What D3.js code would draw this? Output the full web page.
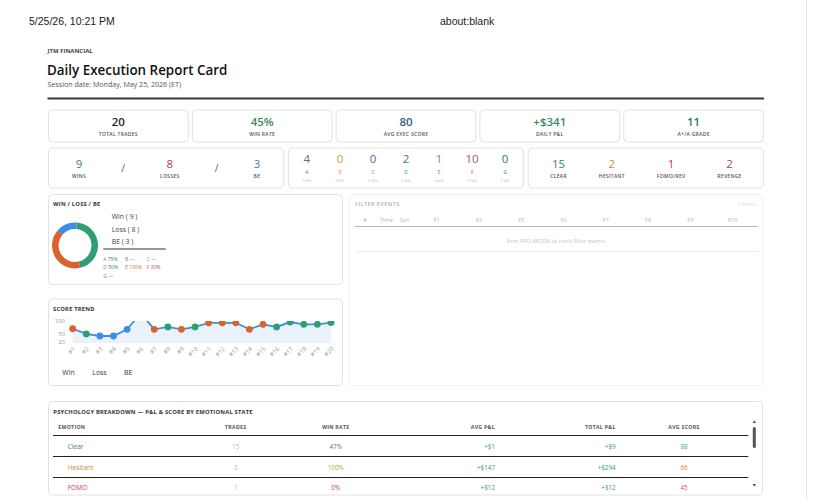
<!DOCTYPE html>
<html><head><meta charset="utf-8">
<script src="https://cdn.jsdelivr.net/npm/d3@7"></script>
<style>
html,body{margin:0;padding:0;background:#fff;}
svg{display:block;}
svg text{font-family:"Open Sans",sans-serif;}
</style></head><body>
<svg id="c" width="814" height="500"></svg>
<script>
// ---------- DATA ----------
const kpiLabels = ["TOTAL TRADES", "WIN RATE", "AVG EXEC SCORE", "DAILY P&L", "A+/A GRADE"];
const kpiValues = ["20", "45%", "80", "+$341", "11"];
const kpiColors = ["#1f1f1f", "#3a8a5c", "#2c5d8a", "#3a8a5c", "#2f7a5a"];

const outcomeLabels = ["WINS", "LOSSES", "BE"];
const outcomeCounts = [9, 8, 3];
const outcomeColors = ["#3a8a5c", "#b04a4a", "#4a78a8"];

const grades = ["A", "B", "C", "D", "E", "F", "G"];
const gradeCounts = [4, 0, 0, 2, 1, 10, 0];
const gradeBlk = [0, 3, 0, 0, 0, 3, 0];
const gradeColors = ["#4a6fa0", "#d4a030", "#6a5aa0", "#2a8878", "#c07840", "#a05080", "#2a7a5a"];
const gradeWinRates = ["75%", "—", "—", "50%", "100%", "30%", "—"];

const emotionLabels = ["CLEAR", "HESITANT", "FOMO/REV", "REVENGE"];
const emotionCounts = [15, 2, 1, 2];
const emotionColors = ["#2f8a6a", "#c0904a", "#b0404a", "#a84a4a"];

const donutLabels = ["Win", "Loss", "BE"];
const donutValues = [9, 8, 3];
const donutColors = ["#2f9e72", "#d9622f", "#3a8ee6"];

const tradeLabels = ["#1","#2","#3","#4","#5","#6","#7","#8","#9","#10","#11","#12","#13","#14","#15","#16","#17","#18","#19","#20"];
const tradeScores = [70, 50, 42, 42, 68, 130, 68, 77, 68, 77, 93, 93, 93, 68, 87, 77, 96, 87, 87, 94];
const tradeOutcomes = ["Loss","Win","BE","BE","BE","Win","Loss","Win","Loss","Win","Loss","Loss","Loss","Loss","Loss","Win","Win","Win","Win","Win"];
const scoreTicks = [20, 50, 100];

const filterCols = ["#", "Time", "Scn", "F1", "F3", "F5", "F6", "F7", "F8", "F9", "F10"];

const psychHeaders = ["EMOTION", "TRADES", "WIN RATE", "AVG P&L", "TOTAL P&L", "AVG SCORE"];
const psychEmotions = ["Clear", "Hesitant", "FOMO"];
const psychTrades = [15, 2, 1];
const psychWinRate = [47, 100, 0];
const psychAvgPnl = [1, 147, 12];
const psychTotalPnl = [9, 294, 12];
const psychAvgScore = [88, 66, 45];
const psychEmotionColors = ["#3a8a6a", "#b8952e", "#c03848"];
const psychWinColors = ["#3a8a5c", "#c0a030", "#c03848"];
const psychScoreColors = ["#3aa880", "#d08a30", "#d04a3a"];

// ---------- HELPERS ----------
const svg = d3.select("#c");
function T(p, x, y, s, size, o = {}) {
  const t = p.append("text").attr("x", x).attr("y", y).text(s)
    .attr("font-size", size).attr("font-weight", o.w || 400)
    .attr("fill", o.c || "#222").attr("text-anchor", o.a || "start");
  if (o.ls) t.attr("letter-spacing", o.ls);
  if (o.f) t.style("font-family", o.f);
  return t;
}
function card(p, x, y, w, h) {
  return p.append("rect").attr("x", x).attr("y", y).attr("width", w).attr("height", h)
    .attr("rx", 4).attr("fill", "#fff").attr("stroke", "#e2e2e2").attr("stroke-width", 1);
}
function spaceAround(groups, x0, x1) {
  const ws = groups.map(g => g.node().getBBox().width);
  const gap = ((x1 - x0) - d3.sum(ws)) / groups.length;
  let cur = x0;
  groups.forEach((g, i) => {
    g.attr("transform", `translate(${cur + gap / 2 + ws[i] / 2},0)`);
    cur += gap + ws[i];
  });
}
const fmtMoney = v => (v >= 0 ? "+$" : "-$") + Math.abs(v);

// ---------- PRINT HEADER ----------
T(svg, 29, 25, "5/25/26, 10:21 PM", 10.5, { c: "#222", f: '"Liberation Sans", Arial, sans-serif' });
T(svg, 440, 25, "about:blank", 10.5, { c: "#222", f: '"Liberation Sans", Arial, sans-serif' });
svg.append("line").attr("x1", 806.5).attr("x2", 806.5).attr("y1", 0).attr("y2", 500).attr("stroke", "#e6e6e6");

// ---------- REPORT HEADER ----------
T(svg, 47.5, 53, "JTM FINANCIAL", 6, { w: 700, c: "#444" });
T(svg, 47, 75, "Daily Execution Report Card", 13.4, { w: 600, c: "#111" });
T(svg, 47.5, 87.3, "Session date: Monday, May 25, 2026 (ET)", 7.1, { c: "#555" });
svg.append("rect").attr("x", 47.5).attr("y", 97.5).attr("width", 716.5).attr("height", 2).attr("fill", "#3a3a3a");

// ---------- KPI ROW ----------
const kx = d3.scaleBand().domain(kpiLabels).range([48.5, 763.5]).paddingInner(0.028);
kpiLabels.forEach((l, i) => {
  const x = kx(l), w = kx.bandwidth();
  card(svg, x, 110, w, 32);
  T(svg, x + w / 2, 126, kpiValues[i], 11.5, { w: 600, c: kpiColors[i], a: "middle" });
  T(svg, x + w / 2, 136, l, 5, { w: 600, c: "#555", a: "middle", ls: 0.3 });
});

// ---------- ROW 2 ----------
const rx = d3.scaleBand().domain(["out", "grade", "emo"]).range([48.5, 763.5]).paddingInner(0.019);
["out", "grade", "emo"].forEach(k => card(svg, rx(k), 148, rx.bandwidth(), 40));

function statItem(p, val, label, col) {
  const g = p.append("g");
  T(g, 0, 167.6, val, 11.5, { w: 500, c: col, a: "middle" });
  T(g, 0, 177.6, label, 5, { w: 600, c: "#555", a: "middle", ls: 0.3 });
  return g;
}
const outG = svg.append("g");
const outItems = [];
outcomeLabels.forEach((l, i) => {
  outItems.push(statItem(outG, outcomeCounts[i], l, outcomeColors[i]));
  if (i < outcomeLabels.length - 1) {
    const s = outG.append("g");
    T(s, 0, 172, "/", 10, { c: "#555", a: "middle" });
    outItems.push(s);
  }
});
spaceAround(outItems, rx("out") + 6, rx("out") + rx.bandwidth() - 6);

const gx = d3.scaleBand().domain(grades).range([rx("grade") + 2, rx("grade") + rx.bandwidth() - 2]);
grades.forEach((gr, i) => {
  const cx = gx(gr) + gx.bandwidth() / 2;
  T(svg, cx, 163, gradeCounts[i], 11.5, { w: 500, c: gradeColors[i], a: "middle" });
  T(svg, cx, 173.5, gr, 4.6, { w: 500, c: gradeColors[i], a: "middle" });
  T(svg, cx, 181.5, gradeBlk[i] + " blk", 4.2, { c: "#bdbdbd", a: "middle" });
});

const emoG = svg.append("g");
const emoItems = emotionLabels.map((l, i) => statItem(emoG, emotionCounts[i], l, emotionColors[i]));
spaceAround(emoItems, rx("emo") + 6, rx("emo") + rx.bandwidth() - 6);

// ---------- WIN / LOSS / BE PANEL ----------
card(svg, 48.5, 194.5, 294, 90);
T(svg, 53, 206.2, "WIN / LOSS / BE", 5.8, { w: 700, c: "#333", ls: 0.2 });
const pie = d3.pie().sort(null).value(d => d).startAngle(0.08).endAngle(0.08 + 2 * Math.PI)(donutValues);
const arc = d3.arc().innerRadius(16.5).outerRadius(23);
const dg = svg.append("g").attr("transform", "translate(75,245.5)");
dg.selectAll("path").data(pie).join("path").attr("d", arc).attr("fill", (d, i) => donutColors[i]);
donutLabels.forEach((l, i) => {
  T(svg, 111.7, 219.3 + i * 12.4, `${l} ( ${donutValues[i]} )`, 6.9, { c: "#444" });
});
svg.append("line").attr("x1", 103.3).attr("x2", 165.7).attr("y1", 249).attr("y2", 249).attr("stroke", "#333").attr("stroke-width", 1);
grades.forEach((gr, i) => {
  const t = T(svg, 103.3 + (i % 3) * 21.7, 261 + Math.floor(i / 3) * 8.3, "", 5, { c: "#888" });
  t.append("tspan").text(gr + " ");
  t.append("tspan").text(gradeWinRates[i]).attr("fill", gradeWinRates[i] === "—" ? "#888" : gradeColors[i]);
});

// ---------- SCORE TREND PANEL ----------
card(svg, 48.5, 299, 294, 86.5);
T(svg, 53, 311.2, "SCORE TREND", 5.8, { w: 700, c: "#333", ls: 0.2 });
const sx = d3.scalePoint().domain(tradeLabels).range([72.7, 331]);
const sy = d3.scaleLinear().domain([15, 100]).range([343, 321]);
const defs = svg.append("defs");
defs.append("clipPath").attr("id", "plotclip").append("rect").attr("x", 60).attr("y", 321).attr("width", 280).attr("height", 30);
const plot = svg.append("g").attr("clip-path", "url(#plotclip)");
plot.append("path").datum(tradeScores)
  .attr("d", d3.area().x((d, i) => sx(tradeLabels[i])).y0(sy(15)).y1(d => sy(d)))
  .attr("fill", "#e9f2fb");
plot.append("path").datum(tradeScores)
  .attr("d", d3.line().x((d, i) => sx(tradeLabels[i])).y(d => sy(d)))
  .attr("fill", "none").attr("stroke", "#3a8ee6").attr("stroke-width", 1.8);
const outcomeColor = { Win: "#2f9e72", Loss: "#d9622f", BE: "#3a8ee6" };
plot.selectAll("circle").data(tradeScores).join("circle")
  .attr("cx", (d, i) => sx(tradeLabels[i])).attr("cy", d => sy(d)).attr("r", 3.4)
  .attr("fill", (d, i) => outcomeColor[tradeOutcomes[i]]);
const yAx = svg.append("g").attr("transform", "translate(67,0)")
  .call(d3.axisLeft(sy).tickValues(scoreTicks).tickSize(0).tickPadding(2));
yAx.select(".domain").remove();
yAx.selectAll("text").attr("font-size", 6).attr("fill", "#999").style("font-family", '"Open Sans", sans-serif');
const xAx = svg.append("g").attr("transform", "translate(0,349)")
  .call(d3.axisBottom(sx).tickSize(0).tickPadding(0));
xAx.select(".domain").remove();
xAx.selectAll("text").attr("font-size", 6).attr("fill", "#999").style("font-family", '"Open Sans", sans-serif')
  .attr("text-anchor", "end").attr("x", 1.5).attr("y", 0).attr("dy", "0.35em")
  .attr("transform", "rotate(-45)");
["Win", "Loss", "BE"].forEach((l, i) => T(svg, [62.3, 92.3, 124][i], 375, l, 6.9, { c: "#333" }));

// ---------- FILTER EVENTS PANEL ----------
const fg = svg.append("g").attr("opacity", 0.5);
card(fg, 349, 194.5, 414, 191);
T(fg, 355, 206, "FILTER EVENTS", 5.8, { w: 600, c: "#666", ls: 0.3 });
T(fg, 756.5, 206, "0 events", 4.8, { c: "#bbb", a: "end" });
const fx = d3.scalePoint().domain(filterCols.slice(3)).range([436.7, 732.7]);
T(fg, 365, 221.5, "#", 5.6, { c: "#666", a: "middle" });
T(fg, 380, 221.5, "Time", 5.6, { c: "#666" });
T(fg, 400, 221.5, "Scn", 5.6, { c: "#666" });
filterCols.slice(3).forEach(c => T(fg, fx(c), 221.5, c, 5.6, { c: "#666", a: "middle" }));
fg.append("line").attr("x1", 355).attr("x2", 758).attr("y1", 226.5).attr("y2", 226.5).attr("stroke", "#777").attr("stroke-width", 1);
T(fg, 556, 242.5, "Arm PRO-MODE to track filter events", 5.8, { c: "#888", a: "middle" });
fg.append("line").attr("x1", 355).attr("x2", 758).attr("y1", 251.5).attr("y2", 251.5).attr("stroke", "#ddd").attr("stroke-width", 1);

// ---------- PSYCHOLOGY TABLE ----------
card(svg, 48.5, 401.5, 714, 93.5);
T(svg, 53.3, 414, "PSYCHOLOGY BREAKDOWN — P&L & SCORE BY EMOTIONAL STATE", 5.8, { w: 700, c: "#333", ls: 0.2 });
defs.append("clipPath").attr("id", "tblclip").append("rect").attr("x", 49).attr("y", 418).attr("width", 713).attr("height", 72.3);
const tg = svg.append("g").attr("clip-path", "url(#tblclip)");
const colX = [58.3, 235.7, 335.7, 495, 615.7, 684];
const colA = ["start", "middle", "middle", "end", "end", "middle"];
psychHeaders.forEach((h, i) => T(tg, colX[i], 428.5, h, 5.2, { w: 700, c: "#555", a: colA[i], ls: 0.3 }));
tg.append("line").attr("x1", 53).attr("x2", 748.3).attr("y1", 435.5).attr("y2", 435.5).attr("stroke", "#222").attr("stroke-width", 1);
psychEmotions.forEach((e, r) => {
  const y = 448.8 + r * 20.8;
  T(tg, 67.7, y, e, 6.6, { w: 500, c: psychEmotionColors[r] });
  T(tg, colX[1], y, psychTrades[r], 6.3, { c: "#b5b5b5", a: "middle" });
  T(tg, colX[2], y, psychWinRate[r] + "%", 6.3, { c: psychWinColors[r], a: "middle" });
  T(tg, colX[3], y, fmtMoney(psychAvgPnl[r]), 6.3, { c: "#3a9a6a", a: "end" });
  T(tg, colX[4], y, fmtMoney(psychTotalPnl[r]), 6.3, { c: "#3a9a6a", a: "end" });
  T(tg, colX[5], y, psychAvgScore[r], 6.3, { c: psychScoreColors[r], a: "middle" });
  tg.append("line").attr("x1", 53).attr("x2", 748.3).attr("y1", 456.5 + r * 21).attr("y2", 456.5 + r * 21)
    .attr("stroke", "#222").attr("stroke-width", 1);
});
// scrollbar
svg.append("path").attr("d", "M752.6,423 L756,423 L754.3,420.3 Z").attr("fill", "#555");
svg.append("rect").attr("x", 752.8).attr("y", 427).attr("width", 3).attr("height", 21).attr("rx", 1.5).attr("fill", "#555");
svg.append("path").attr("d", "M752.6,484 L756,484 L754.3,486.7 Z").attr("fill", "#555");
</script>
</body></html>
